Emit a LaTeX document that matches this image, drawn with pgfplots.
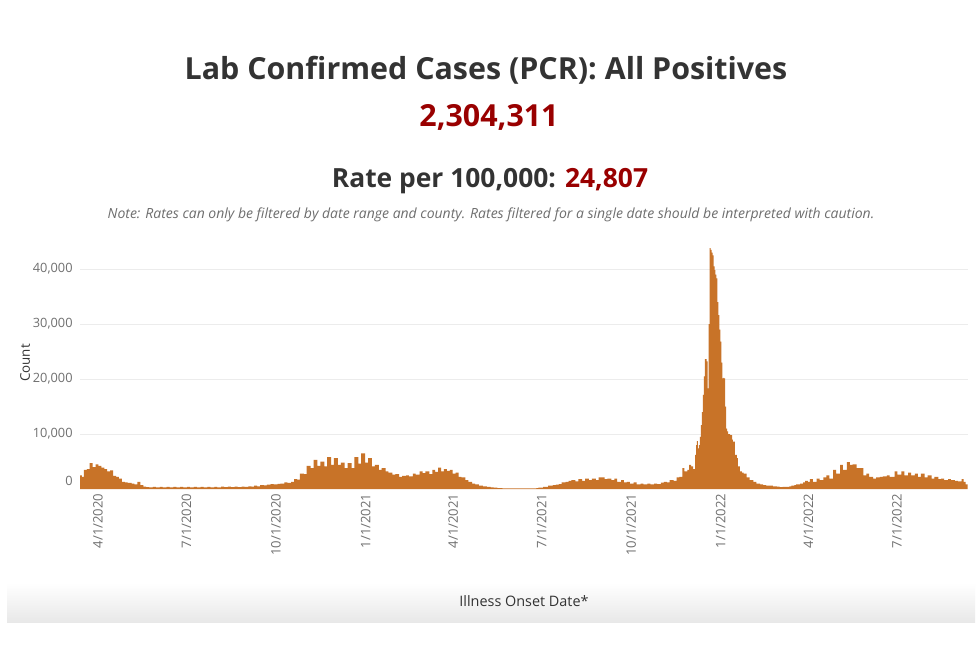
\documentclass[border=0pt]{standalone}
\usepackage{fontspec}
\setmainfont{Open Sans}
\usepackage{pgfplots}
\pgfplotsset{compat=1.18}
\usepackage{pgfplotstable}

\definecolor{barorange}{RGB}{200,115,40}
\definecolor{titlegray}{RGB}{51,51,51}
\definecolor{darkred}{RGB}{153,0,0}
\definecolor{tickgray}{RGB}{112,112,112}
\definecolor{notegray}{RGB}{110,110,110}
\definecolor{gridgray}{RGB}{236,236,236}

% day = days since 1/1/2020, count = cases by illness onset date
\pgfplotstableread{
day count
78 2500
80 2200
82 3500
85 3600
88 4700
91 4000
94 4500
97 4200
100 3900
103 3600
106 3200
109 3400
112 2400
115 2200
118 1900
121 1300
124 1200
127 1100
131 1000
134 850
137 1300
140 700
143 450
146 350
149 300
153 400
156 300
160 400
163 300
167 400
170 300
174 400
177 300
181 400
184 300
188 400
191 300
195 400
198 300
202 400
205 300
209 400
212 300
216 400
219 300
223 450
226 350
230 450
233 350
237 450
240 350
244 450
247 400
251 500
254 450
257 600
260 500
263 700
267 650
270 800
274 900
277 850
281 950
284 1000
288 1200
291 1100
295 1300
298 1800
301 1700
304 2800
308 2700
311 4200
315 3800
318 5300
322 4200
325 5000
329 4100
332 5800
336 4400
339 5600
343 4400
346 4800
350 3800
353 4700
357 3800
360 5800
364 4600
367 6500
371 4800
374 5600
378 4100
381 4400
385 3500
388 3800
392 3200
395 3000
399 2600
402 2700
406 2200
409 2400
413 2500
416 2300
420 2800
423 2600
427 3200
430 2900
433 3200
437 2700
440 3500
443 3100
446 3900
449 3200
452 3600
455 3300
458 3500
461 2800
464 3000
467 2200
470 2100
474 1600
477 1300
481 1000
484 850
488 600
492 500
496 400
500 300
503 250
507 150
512 120
520 120
528 120
536 120
544 120
547 150
549 250
554 400
559 600
564 700
567 800
570 900
573 1200
577 1300
580 1500
583 1600
587 1400
590 1800
594 1500
597 1900
601 1600
604 1900
608 1600
611 2100
614 2100
617 1800
620 1900
624 1600
627 1900
630 1300
634 1600
637 1200
640 1300
643 1000
647 1200
650 850
654 1000
657 850
661 1000
664 850
668 1000
671 900
675 1150
678 1300
681 1200
684 1600
688 1500
691 2100
694 2200
697 3800
699 3200
702 3500
704 4400
706 4100
708 3600
710 6200
711 8000
712 8700
713 7400
714 8000
715 9500
716 11600
717 14000
718 17100
719 20500
720 23600
721 23600
722 23200
723 18300
724 30000
725 43800
726 43500
727 43000
728 42500
729 40500
730 39800
731 39000
732 38300
733 34000
734 31600
735 29000
736 26800
737 23000
738 20100
739 20200
740 20100
741 15000
742 11000
743 10500
744 10000
746 9800
748 9000
749 8600
751 6200
753 5600
754 4100
756 3200
758 3000
760 2800
763 2100
766 1600
770 1300
773 1000
777 850
780 700
783 600
787 600
790 500
794 450
797 350
800 400
804 400
807 500
809 600
812 700
814 850
818 1000
821 1200
823 1500
826 1300
828 1800
831 1300
835 1900
838 1600
842 2100
845 2500
848 1900
852 3500
855 2800
859 4400
862 3500
866 4900
869 4400
872 4500
876 3800
879 3800
883 2500
886 2800
889 2200
893 1900
896 2100
900 2200
903 2300
907 2500
910 2200
915 3200
918 2600
922 3200
925 2500
929 3000
932 2500
936 2800
939 2200
942 2800
946 2100
949 2500
953 1900
956 2200
960 1800
963 1900
966 1600
970 1800
973 1600
977 1500
980 1400
984 1800
986 1300
988 850
990 0
}\casedata

\begin{document}
\begin{tikzpicture}[x=0.75pt,y=0.75pt]
% canvas
\fill[white] (0,0) rectangle (980,653);
\shade[top color=white, bottom color=black!9] (7,31) rectangle (975,70);

% headings
\node[anchor=base, font=\bfseries\fontsize{22.8}{26}\selectfont, text=titlegray]
  at (486,573) {Lab Confirmed Cases (PCR): All Positives};
\node[anchor=base, font=\bfseries\fontsize{22.8}{26}\selectfont, text=darkred]
  at (489,526) {2,304,311};
\node[anchor=base, font=\bfseries\fontsize{19.8}{23}\selectfont]
  at (490,465) {\textcolor{titlegray}{Rate per 100,000:} \textcolor{darkred}{24,807}};
\node[anchor=base, font=\itshape\fontsize{10.5}{12}\selectfont, text=notegray]
  at (491,434) {Note: Rates can only be filtered by date range and county. Rates filtered for a single date should be interpreted with caution.};

% axis titles
\node[rotate=90, font=\fontsize{10}{12}\selectfont, text=titlegray] at (25,290) {Count};
\node[anchor=base, font=\fontsize{10.8}{13}\selectfont, text=titlegray] at (524,47) {Illness Onset Date*};

\begin{axis}[
  at={(60pt,123pt)}, anchor=south west,
  scale only axis, width=666pt, height=185.625pt,
  xmin=78, xmax=990.5, ymin=0, ymax=45000,
  axis line style={draw=none}, major tick length=0pt,
  ymajorgrids, grid style={gridgray, line width=0.6pt},
  scaled y ticks=false,
  ytick={10000,20000,30000,40000},
  yticklabels={{10,000},{20,000},{30,000},{40,000}},
  extra y ticks={0}, extra y tick labels={0},
  extra y tick style={grid=none, yticklabel style={yshift=6pt}},
  yticklabel style={font=\fontsize{9.6}{12}\selectfont, text=tickgray, xshift=-2pt},
  xtick={91,182,274,366,456,547,639,731,821,912},
  xticklabels={4/1/2020,7/1/2020,10/1/2020,1/1/2021,4/1/2021,7/1/2021,10/1/2021,1/1/2022,4/1/2022,7/1/2022},
  xticklabel style={font=\fontsize{9.8}{12}\selectfont, text=tickgray, rotate=90, anchor=east, yshift=-4pt},
]
\addplot[draw=none, fill=barorange, const plot mark left] table[x=day, y=count] {\casedata} \closedcycle;
\end{axis}
\end{tikzpicture}
\end{document}
